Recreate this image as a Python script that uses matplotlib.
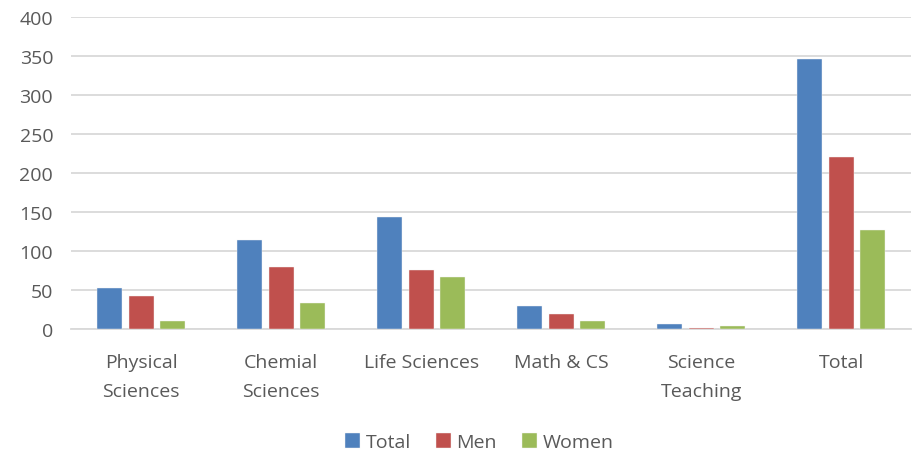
import numpy as np
import matplotlib
matplotlib.use("Agg")
import matplotlib.pyplot as plt

categories = ["Physical\nSciences", "Chemial\nSciences", "Life Sciences", "Math & CS", "Science\nTeaching", "Total"]
total = [53, 114, 143, 30, 6, 346]
men = [43, 80, 76, 19, 2, 220]
women = [10, 34, 67, 11, 4, 127]

series = [("Total", total, "#4F81BD"), ("Men", men, "#C0504D"), ("Women", women, "#9BBB59")]

plt.rcParams['font.family'] = ['Open Sans', 'DejaVu Sans']
text_color = "#595959"

fig = plt.figure(figsize=(9.13, 4.56), dpi=100)
ax = fig.add_axes([0.078, 0.276, 0.92, 0.685])

x = np.arange(len(categories))
pitch = 0.225
width = 0.18
for k, (name, vals, col) in enumerate(series):
    ax.bar(x + (k - 1) * pitch, vals, width, color=col, label=name,
           edgecolor="#f4f4f4", linewidth=0.3, zorder=3)

ax.set_xlim(-0.5, len(categories) - 0.5)
ax.set_ylim(0, 400)
ax.set_yticks(range(0, 401, 50))
ax.grid(axis="y", color="#D9D9D9", linewidth=1.3, zorder=0)
for s in ["top", "right", "left"]:
    ax.spines[s].set_visible(False)
ax.spines["bottom"].set_color("#D9D9D9")
ax.spines["bottom"].set_linewidth(1.3)
ax.tick_params(axis="both", length=0, labelsize=14, colors=text_color)
ax.tick_params(axis="y", pad=13)
ax.tick_params(axis="x", pad=17)
ax.set_xticks(x)
ax.set_xticklabels(categories, linespacing=1.8)

leg = fig.legend(loc="lower center", bbox_to_anchor=(0.525, -0.03), ncol=3, frameon=False,
                 fontsize=14, handlelength=0.75, handleheight=0.75, handletextpad=0.3,
                 columnspacing=1.3)
for t in leg.get_texts():
    t.set_color(text_color)

fig.savefig("out.png", dpi=100)
